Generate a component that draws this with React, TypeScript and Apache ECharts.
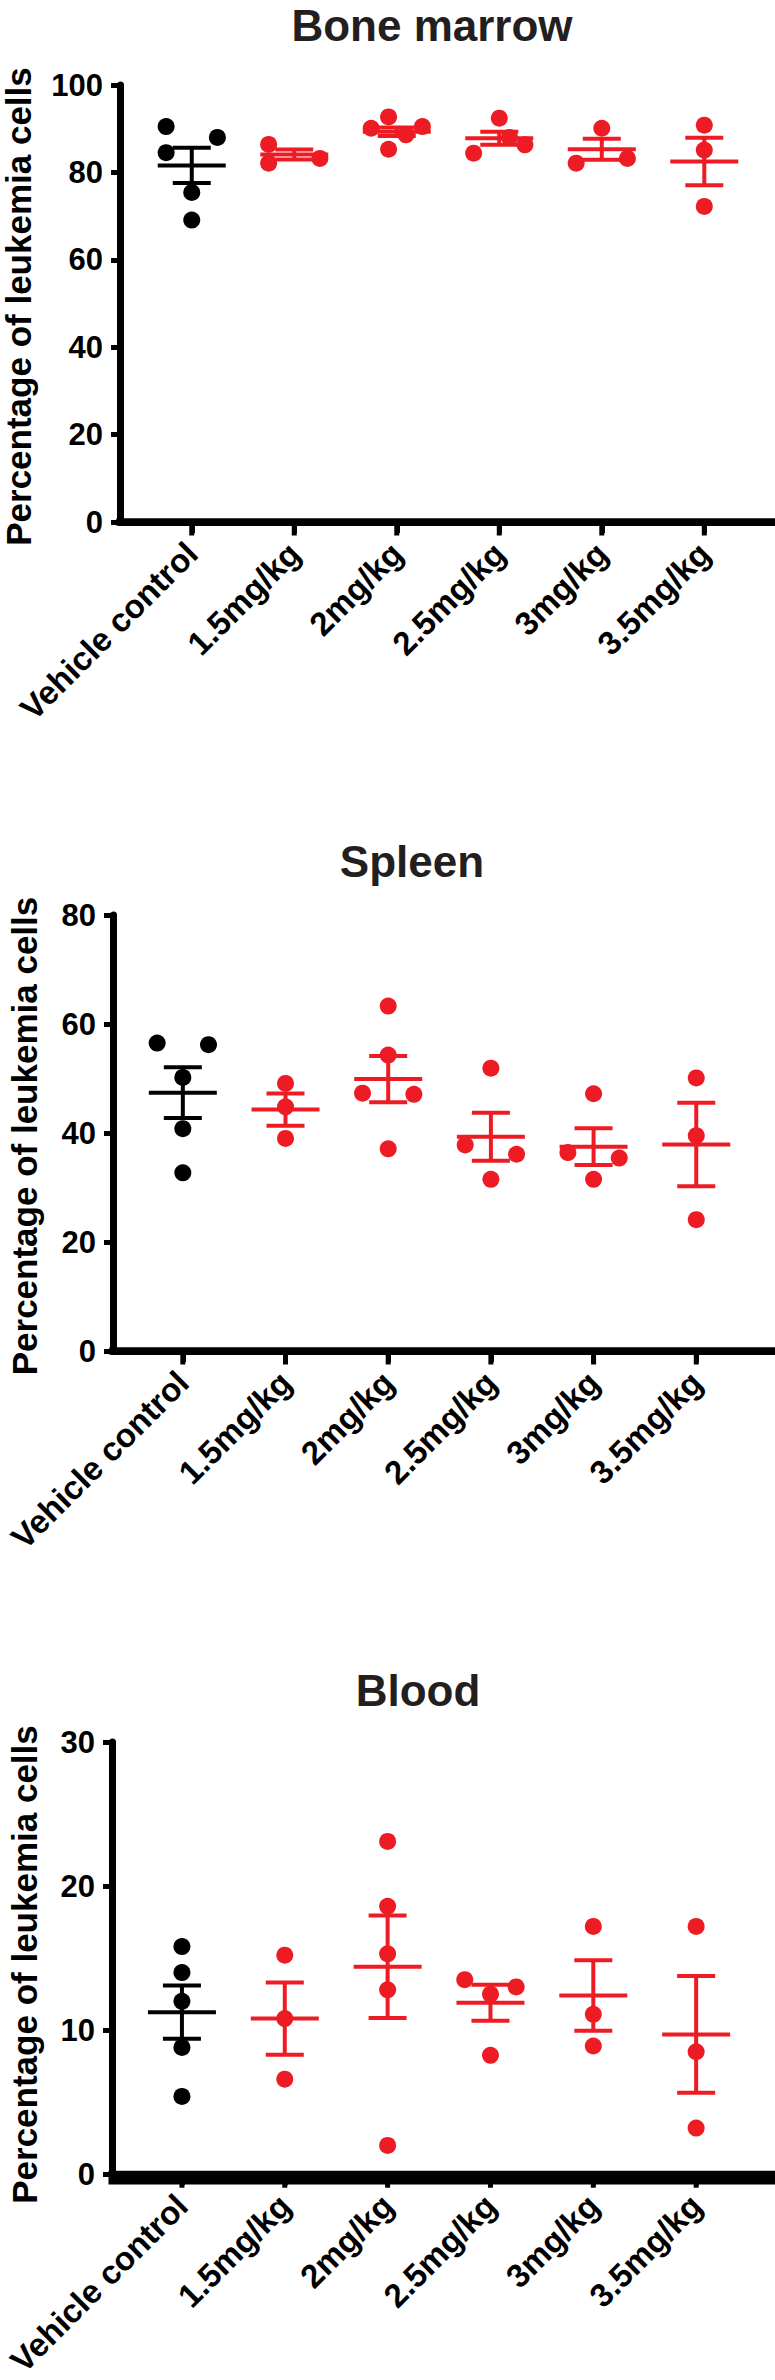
import React, { useEffect, useRef } from "react";
import * as echarts from "echarts";

// ---------- data ----------
const categories = ["Vehicle control", "1.5mg/kg", "2mg/kg", "2.5mg/kg", "3mg/kg", "3.5mg/kg"];
const panelTitles = ["Bone marrow", "Spleen", "Blood"];
const yAxisTitle = "Percentage of leukemia cells";

// Bone marrow
const boneValues = [
  [90.5, 88.0, 84.5, 75.4, 69.1],
  [86.4, 82.1, 83.2],
  [92.7, 90.1, 90.5, 88.6, 85.3],
  [92.4, 84.4, 86.3, 88.0],
  [90.1, 82.1, 83.2],
  [90.8, 85.1, 72.2],
];
const boneSpread = [
  [-0.25, 0.25, -0.25, 0, 0],
  [-0.25, -0.25, 0.25],
  [-0.08, -0.25, 0.25, 0.09, -0.08],
  [0, -0.25, 0.25, 0.1],
  [0, -0.25, 0.25],
  [0, 0, 0],
];
const boneMean = [81.6, 84.1, 89.3, 87.8, 85.3, 82.5];
const boneSem = [4.05, 1.15, 0.95, 1.5, 2.4, 5.45];

// Spleen
const spleenValues = [
  [56.5, 56.2, 50.2, 40.8, 32.7],
  [49.1, 44.8, 39.0],
  [63.3, 54.3, 47.3, 47.1, 37.1],
  [51.9, 37.8, 36.1, 31.5],
  [47.2, 36.4, 35.4, 31.5],
  [50.1, 39.5, 24.1],
];
const spleenSpread = [
  [-0.25, 0.25, 0, 0, 0],
  [0, 0, 0],
  [0, 0, -0.25, 0.25, 0],
  [0, -0.25, 0.25, 0],
  [0, -0.25, 0.25, 0],
  [0, 0, 0],
];
const spleenMean = [47.4, 44.3, 49.9, 39.3, 37.5, 37.9];
const spleenSem = [4.65, 2.95, 4.25, 4.4, 3.35, 7.65];

// Blood
const bloodValues = [
  [15.8, 14.0, 12.0, 8.8, 5.4],
  [15.2, 10.8, 6.6],
  [23.1, 18.6, 15.3, 12.8, 2.0],
  [13.5, 13.0, 12.5, 8.25],
  [17.2, 11.1, 8.9],
  [17.2, 8.5, 3.2],
];
const bloodSpread = [
  [0, 0, 0, 0, 0],
  [0, 0, 0],
  [0, 0, 0, 0, 0],
  [-0.25, 0.25, 0, 0],
  [0, 0, 0],
  [0, 0, 0],
];
const bloodMean = [11.25, 10.8, 14.4, 11.9, 12.4, 9.7];
const bloodSem = [1.85, 2.5, 3.55, 1.25, 2.45, 4.05];

const yMaxes = [100, 80, 30];
const yIntervals = [20, 20, 10];

// ---------- styling / layout ----------
const FONT = '"Liberation Sans", Arial, Helvetica, sans-serif';
const BLACK = "#000000";
const RED = "#ed1c24";
const W = 775;
const AXIS_W = 7;

// each panel is its own chart, stacked to fill 775 x 2380
const layout = [
  { boxH: 790, axisX: 120, top: 85, height: 437, xMin: -0.7, xMax: 5.68, titleX: 432, titleY: 25, nameX: 18 },
  { boxH: 810, axisX: 113, top: 125, height: 436, xMin: -0.68, xMax: 5.757, titleX: 412, titleY: 71, nameX: 24 },
  { boxH: 780, axisX: 112, top: 142, height: 439, xMin: -0.68, xMax: 5.757, titleX: 418, titleY: 90, nameX: 24 },
];

const panels = [
  { values: boneValues, spread: boneSpread, mean: boneMean, sem: boneSem },
  { values: spleenValues, spread: spleenSpread, mean: spleenMean, sem: spleenSem },
  { values: bloodValues, spread: bloodSpread, mean: bloodMean, sem: bloodSem },
];

function buildOption(k: number) {
  const p = panels[k];
  const L = layout[k];
  const tickIdx = categories.map((_, i) => i);

  const scatterData: any[] = [];
  p.values.forEach((grp, gi) => {
    grp.forEach((v, j) => {
      scatterData.push({
        value: [gi + p.spread[gi][j], v],
        itemStyle: { color: gi === 0 ? BLACK : RED, opacity: 1 },
      });
    });
  });
  const barData = p.mean.map((m, gi) => [gi, m, p.sem[gi]]);

  return {
    animation: false,
    backgroundColor: "#ffffff",
    grid: { left: L.axisX, top: L.top, width: W - L.axisX - 1, height: L.height, containLabel: false },
    xAxis: {
      type: "value",
      position: "bottom",
      min: L.xMin,
      max: L.xMax,
      splitLine: { show: false },
      axisLine: { show: true, onZero: false, lineStyle: { color: BLACK, width: AXIS_W } },
      axisTick: { show: true, customValues: tickIdx, length: 11, lineStyle: { color: BLACK, width: 5 } },
      axisLabel: {
        show: true,
        customValues: tickIdx,
        formatter: (v: number) => categories[Math.round(v)] ?? "",
        rotate: 45,
        margin: 26,
        color: BLACK,
        fontSize: 33,
        fontWeight: "bold",
        fontFamily: FONT,
      },
    },
    yAxis: {
      type: "value",
      position: "left",
      min: 0,
      max: yMaxes[k],
      interval: yIntervals[k],
      splitLine: { show: false },
      axisLine: { show: true, onZero: false, lineStyle: { color: BLACK, width: AXIS_W } },
      axisTick: { show: true, length: 9, lineStyle: { color: BLACK, width: 5 } },
      axisLabel: { color: BLACK, fontSize: 31, fontWeight: "bold", fontFamily: FONT, margin: 17 },
    },
    series: [
      {
        type: "scatter",
        symbol: "circle",
        symbolSize: 17,
        itemStyle: { opacity: 1 },
        data: scatterData,
        z: 2,
        silent: true,
        markLine: {
          silent: true,
          symbol: "none",
          animation: false,
          label: { show: false },
          lineStyle: { color: BLACK, width: AXIS_W, type: "solid" },
          data: [{ yAxis: 0 }],
        },
      },
      {
        type: "custom",
        encode: { x: 0, y: 1 },
        z: 3,
        silent: true,
        clip: false,
        data: barData,
        renderItem: (params: any, api: any) => {
          const x = api.value(0);
          const m = api.value(1);
          const s = api.value(2);
          const pm = api.coord([x, m]);
          const pt = api.coord([x, m + s]);
          const pb = api.coord([x, m - s]);
          const p0 = api.coord([x, 0]);
          const cs = params.coordSys;
          const color = params.dataIndex === 0 ? BLACK : RED;
          const style = { stroke: color, lineWidth: 4, fill: null };
          const children: any[] = [
            { type: "line", shape: { x1: pm[0] - 34, y1: pm[1], x2: pm[0] + 34, y2: pm[1] }, style },
            { type: "line", shape: { x1: pm[0], y1: pt[1], x2: pm[0], y2: pb[1] }, style },
            { type: "line", shape: { x1: pm[0] - 19, y1: pt[1], x2: pm[0] + 19, y2: pt[1] }, style },
            { type: "line", shape: { x1: pm[0] - 19, y1: pb[1], x2: pm[0] + 19, y2: pb[1] }, style },
            // category tick under the baseline
            { type: "rect", shape: { x: p0[0] - 2.5, y: p0[1], width: 5, height: AXIS_W / 2 + 10 }, style: { fill: BLACK } },
          ];
          if (params.dataIndex === 0) {
            children.push({
              type: "rect",
              shape: { x: cs.x - AXIS_W / 2, y: p0[1] - AXIS_W / 2, width: cs.width + AXIS_W / 2 + 1, height: AXIS_W },
              style: { fill: BLACK },
            });
          }
          return { type: "group", children };
        },
      },
    ],
    graphic: [
      {
        type: "rect",
        z: 100,
        silent: true,
        shape: { x: L.axisX - AXIS_W / 2, y: L.top + L.height - AXIS_W / 2, width: W - L.axisX + AXIS_W / 2, height: AXIS_W },
        style: { fill: BLACK },
      },
      {
        type: "text",
        x: L.titleX,
        y: L.titleY,
        style: {
          text: panelTitles[k],
          fill: "#231f20",
          font: `bold 44px ${FONT}`,
          textAlign: "center",
          textVerticalAlign: "middle",
          align: "center",
          verticalAlign: "middle",
        },
      },
      {
        type: "text",
        x: L.nameX,
        y: L.top + L.height / 2 + 3,
        rotation: Math.PI / 2,
        style: {
          text: yAxisTitle,
          fill: BLACK,
          font: `bold 35px ${FONT}`,
          textAlign: "center",
          textVerticalAlign: "middle",
          align: "center",
          verticalAlign: "middle",
        },
      },
    ],
  };
}

function Panel({ k }: { k: number }) {
  const ref = useRef<HTMLDivElement>(null);
  const h = layout[k].boxH;
  useEffect(() => {
    if (!ref.current) return;
    const chart = echarts.init(ref.current, null, { renderer: "svg", width: W, height: h });
    chart.setOption(buildOption(k) as any);
    return () => chart.dispose();
  }, [k, h]);
  return <div ref={ref} style={{ width: W, height: h, background: "#fff", overflow: "hidden" }} />;
}

export default function App() {
  useEffect(() => {
    document.body.style.margin = "0";
  }, []);
  return (
    <div style={{ width: W, height: 2380, background: "#fff" }}>
      {panelTitles.map((_, k) => (
        <Panel key={k} k={k} />
      ))}
    </div>
  );
}
